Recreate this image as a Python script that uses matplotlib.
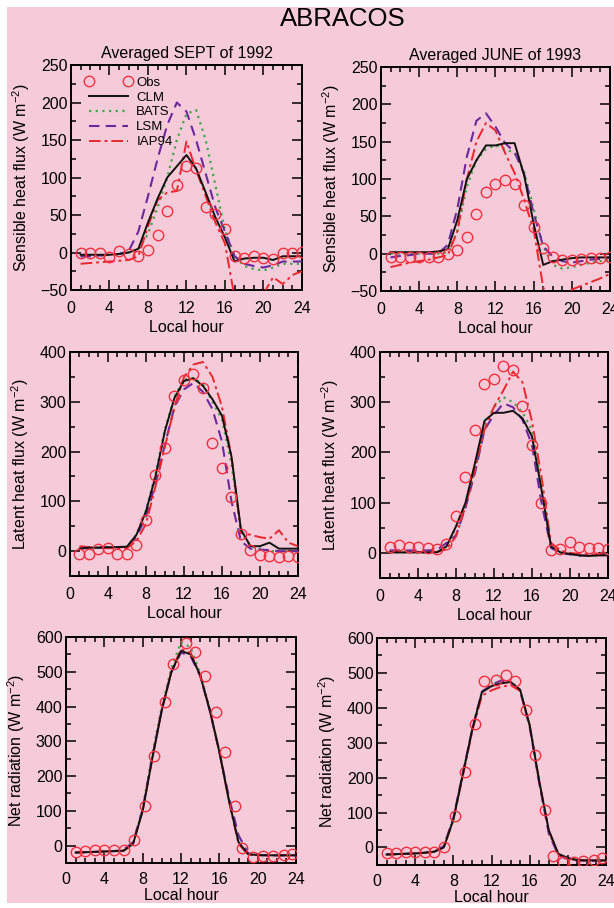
import matplotlib
matplotlib.use('Agg')
import matplotlib.pyplot as plt
from matplotlib.patches import Rectangle
from matplotlib.ticker import MultipleLocator

plt.rcParams['font.family'] = ['Liberation Sans', 'DejaVu Sans']
plt.rcParams['mathtext.default'] = 'regular'

# ---------------- data ----------------
hours = list(range(1, 25))
hours_obs_rn = [1.0, 2.0, 3.0, 4.0, 5.0, 6.0, 7.05, 8.2, 9.2, 10.3, 11.2, 12.5,
                13.5, 14.5, 15.6, 16.6, 17.6, 18.4, 19.5, 20.6, 21.6, 22.7, 23.6]

# Sensible heat flux, SEPT 1992
obs_sh_sep = [0, 0, 0, -6, 2, -2, -4, 4, 23, 56, 90, 115, 113, 61, 52, 31, -4, -7, -4, -7, -9, 0, 0, 1]
clm_sh_sep = [-3, -3, -3, -3, -2, 0, 5, 40, 72, 100, 115, 130, 112, 80, 47, 20, -12, -8, -7, -7, -10, -5, -5, -5]
bats_sh_sep = [-5, -5, -4, -3, -2, 0, 3, 25, 60, 100, 150, 185, 190, 150, 90, 30, -5, -18, -22, -24, -20, -15, -15, -15]
lsm_sh_sep = [-5, -5, -4, -3, -2, 2, 28, 75, 125, 170, 200, 188, 150, 105, 60, 28, -5, -15, -18, -20, -17, -12, -12, -12]
iap_sh_sep = [-15, -14, -13, -12, -11, -10, -5, 35, 70, 80, 82, 148, 110, 75, 40, 12, -60, -80, -80, -55, -33, -42, -30, -25]

# Sensible heat flux, JUNE 1993
obs_sh_jun = [-4, -4, -4, -4, -4, -4, -1, 5, 23, 53, 82, 93, 99, 93, 65, 36, 8, -5, -9, -8, -7, -6, -6, -5]
clm_sh_jun = [2, 2, 2, 2, 2, 3, 6, 45, 100, 125, 145, 145, 148, 148, 105, 40, -15, -10, -8, -6, -5, -5, -5, -5]
bats_sh_jun = [0, 0, 0, 0, 0, 0, 2, 30, 90, 125, 140, 145, 140, 135, 110, 60, 10, -15, -20, -18, -15, -12, -10, -8]
lsm_sh_jun = [-5, -3, -2, 0, 0, 0, 12, 60, 130, 178, 188, 170, 148, 136, 107, 54, 10, -4, -10, -12, -10, -8, -7, -5]
iap_sh_jun = [-18, -15, -12, -10, -8, -5, -2, 30, 100, 150, 175, 165, 135, 108, 72, 32, -45, -75, -65, -48, -43, -38, -33, -27]

# Latent heat flux, SEPT 1992
obs_le_sep = [-5, -5, 5, 7, -5, -5, 13, 63, 152, 208, 312, 343, 356, 328, 217, 167, 109, 35, 3, -7, -10, -11, -10, -12]
clm_le_sep = [5, 7, 7, 8, 8, 9, 33, 80, 150, 242, 308, 342, 347, 332, 305, 272, 190, 43, 10, 10, 17, 5, 5, 5]
bats_le_sep = [5, 7, 7, 8, 8, 9, 33, 82, 155, 245, 310, 345, 348, 335, 300, 265, 175, 40, 10, 5, 0, 0, 0, 0]
lsm_le_sep = [5, 7, 7, 8, 8, 9, 28, 70, 135, 215, 290, 325, 338, 320, 285, 220, 100, 20, 5, 3, 2, 0, 0, 0]
iap_le_sep = [10, 8, 6, 6, 6, 6, 20, 55, 130, 210, 290, 350, 375, 380, 350, 290, 190, 36, 33, 28, 25, 42, 17, 10]

# Latent heat flux, JUNE 1993
obs_le_jun = [11, 15, 12, 11, 10, 8, 17, 74, 152, 245, 336, 346, 372, 364, 293, 215, 99, 5, 8, 21, 12, 9, 9, 8]
clm_le_jun = [1, 1, 1, 1, 1, 1, 13, 53, 100, 179, 263, 279, 279, 283, 268, 232, 126, 13, 1, -2, -5, -6, -5, -5]
bats_le_jun = [1, 1, 1, 1, 1, 2, 15, 50, 95, 170, 255, 290, 310, 300, 280, 245, 135, 12, 0, -3, -5, -5, -4, -3]
lsm_le_jun = [5, 5, 5, 5, 5, 6, 20, 35, 90, 160, 245, 275, 298, 290, 265, 215, 100, 10, 0, -3, -5, -5, -4, -3]
iap_le_jun = [2, 2, 2, 2, 2, 2, 7, 33, 93, 166, 245, 291, 324, 361, 340, 262, 152, 20, 5, 0, -2, -3, -3, -3]

# Net radiation, SEPT 1992
obs_rn_sep = [-18, -16, -14, -13, -13, -13, 17, 115, 259, 414, 523, 583, 557, 487, 385, 268, 115, -7, -33, -30, -30, -27, -25]
clm_rn_sep = [-20, -19, -18, -17, -16, -15, 5, 100, 250, 390, 500, 560, 550, 490, 390, 270, 130, 10, -25, -27, -28, -28, -28, -28]
bats_rn_sep = [-20, -19, -18, -17, -16, -14, 8, 108, 262, 400, 510, 585, 570, 495, 392, 272, 132, 12, -24, -27, -28, -28, -28, -28]
lsm_rn_sep = [-20, -19, -18, -17, -16, -12, 10, 104, 255, 392, 500, 555, 545, 488, 388, 270, 140, 30, -22, -27, -28, -28, -28, -28]
iap_rn_sep = [-20, -19, -18, -17, -16, -15, 5, 100, 250, 392, 502, 565, 555, 490, 390, 270, 128, 5, -26, -28, -28, -28, -28, -28]

# Net radiation, JUNE 1993
obs_rn_jun = [-17, -15, -14, -14, -13, -13, 2, 89, 217, 353, 478, 481, 495, 478, 394, 264, 108, -25, -41, -41, -40, -35, -30]
clm_rn_jun = [-20, -19, -18, -17, -15, -12, 0, 80, 210, 340, 445, 462, 470, 474, 452, 350, 190, 50, -18, -30, -36, -37, -37, -37]
bats_rn_jun = [-20, -19, -18, -17, -15, -12, 2, 82, 212, 342, 447, 465, 475, 474, 450, 348, 188, 45, -20, -32, -36, -37, -37, -37]
lsm_rn_jun = [-20, -19, -18, -17, -15, -11, 4, 84, 214, 340, 446, 466, 478, 474, 448, 345, 185, 40, -22, -34, -37, -38, -38, -38]
iap_rn_jun = [-20, -19, -18, -17, -15, -12, 0, 78, 205, 335, 435, 450, 460, 465, 448, 350, 190, 48, -20, -32, -36, -37, -37, -37]

# ---------------- style ----------------
PINK = '#f5cad9'
C_OBS = '#f2303f'
C_CLM = '#111111'
C_BATS = '#3fa64a'
C_LSM = '#6a2a9e'
C_IAP = '#e8262e'
FS = 11.5

fig = plt.figure(figsize=(6.14, 9.08), dpi=100)
fig.patch.set_facecolor('white')
fig.patches.append(Rectangle((7 / 614, 5 / 908), 1, 1 - 12 / 908, transform=fig.transFigure,
                             facecolor=PINK, edgecolor='none', zorder=-10))

fig.text(0.558, 0.979, 'ABRACOS', ha='center', va='center', fontsize=18.5)

boxes = [
    [0.1156, 0.6806, 0.3762, 0.2478],
    [0.6205, 0.6795, 0.3730, 0.2467],
    [0.1140, 0.3656, 0.3713, 0.2467],
    [0.6189, 0.3634, 0.3713, 0.2489],
    [0.1075, 0.0496, 0.3746, 0.2489],
    [0.6140, 0.0474, 0.3730, 0.2500],
]

panels = [
    (obs_sh_sep, clm_sh_sep, bats_sh_sep, lsm_sh_sep, iap_sh_sep, hours, (-50, 250), 50, 25, 'Sensible heat flux'),
    (obs_sh_jun, clm_sh_jun, bats_sh_jun, lsm_sh_jun, iap_sh_jun, hours, (-50, 250), 50, 25, 'Sensible heat flux'),
    (obs_le_sep, clm_le_sep, bats_le_sep, lsm_le_sep, iap_le_sep, hours, (-50, 400), 100, 50, 'Latent heat flux'),
    (obs_le_jun, clm_le_jun, bats_le_jun, lsm_le_jun, iap_le_jun, hours, (-50, 400), 100, 50, 'Latent heat flux'),
    (obs_rn_sep, clm_rn_sep, bats_rn_sep, lsm_rn_sep, iap_rn_sep, hours_obs_rn, (-50, 600), 100, 50, 'Net radiation'),
    (obs_rn_jun, clm_rn_jun, bats_rn_jun, lsm_rn_jun, iap_rn_jun, hours_obs_rn, (-50, 600), 100, 50, 'Net radiation'),
]

axes = []
for i, (obs, clm, bats, lsm, iap, t_obs, ylim, major, minor, name) in enumerate(panels):
    ax = fig.add_axes(boxes[i])
    ax.set_facecolor(PINK)
    ax.plot(hours, clm, color=C_CLM, lw=1.4, label='CLM', zorder=4)
    ax.plot(hours, bats, color=C_BATS, lw=1.6, ls=(0, (1, 2)), label='BATS', zorder=3)
    ax.plot(hours, lsm, color=C_LSM, lw=1.5, ls=(0, (5, 3)), label='LSM', zorder=3)
    ax.plot(hours, iap, color=C_IAP, lw=1.4, ls=(0, (6, 2, 1.5, 2)), label='IAP94', zorder=3)
    ax.plot(t_obs, obs, ls='none', marker='o', ms=7.5, mfc='none', mec=C_OBS, mew=1.0,
            label='Obs', zorder=5)
    ax.set_xlim(0, 24)
    ax.set_ylim(*ylim)
    ax.xaxis.set_major_locator(MultipleLocator(4))
    ax.xaxis.set_minor_locator(MultipleLocator(1))
    ax.yaxis.set_major_locator(MultipleLocator(major))
    ax.yaxis.set_minor_locator(MultipleLocator(minor))
    ax.tick_params(which='both', direction='in', top=True, right=True, labelsize=FS, width=1.1)
    bottom_row = i >= 4
    ax.tick_params(axis='x', which='major', pad=6.5 if bottom_row else 8)
    ax.tick_params(axis='y', which='major', pad=2.5)
    ax.tick_params(which='major', length=7)
    ax.tick_params(which='minor', length=3.5)
    for sp in ax.spines.values():
        sp.set_linewidth(1.4)
    ax.set_xlabel('Local hour', fontsize=FS, labelpad=1 if bottom_row else 3)
    ax.set_ylabel(name + ' (W m$^{-2}$)', fontsize=FS, labelpad=6)
    axes.append(ax)

axes[0].set_title('Averaged SEPT of 1992', fontsize=FS, pad=5)
axes[1].set_title('Averaged JUNE of 1993', fontsize=FS, pad=5)

h, l = axes[0].get_legend_handles_labels()
order = [4, 0, 1, 2, 3]
axes[0].legend([h[k] for k in order], [l[k] for k in order], loc='upper left',
               bbox_to_anchor=(0.02, 0.99), frameon=False, fontsize=9.5, numpoints=2,
               handlelength=3.6, handletextpad=0.3, labelspacing=0.2, borderpad=0.2)

plt.savefig('out.png', dpi=100, facecolor=fig.get_facecolor())
plt.close()
